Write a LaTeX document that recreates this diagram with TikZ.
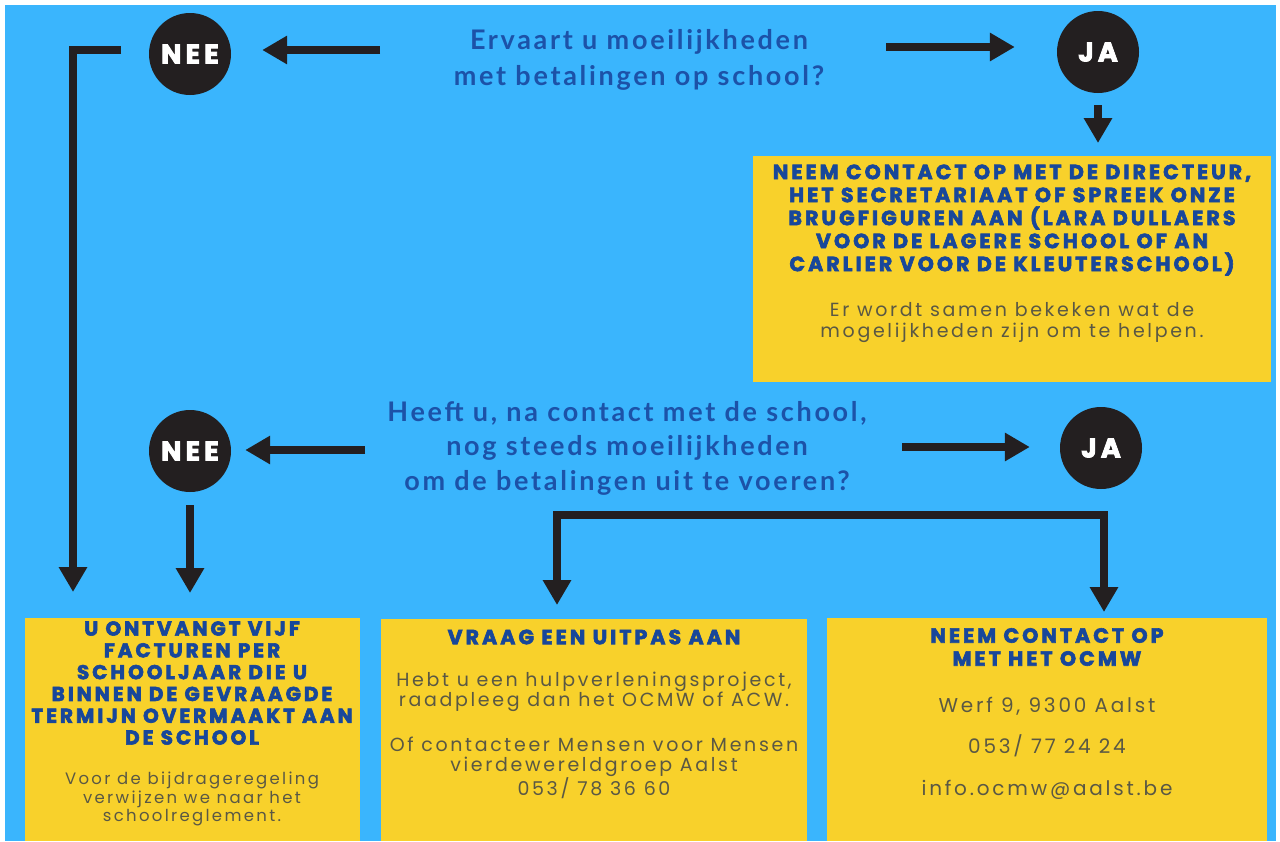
\documentclass[tikz,border=0pt]{standalone}
\usepackage{fontspec}
\usepackage{xcolor}
\usetikzlibrary{arrows.meta, positioning}

\newfontfamily\headfont{Poppins}[BoldFeatures={FakeBold=3,LetterSpace=15}]
\newfontfamily\askfont{Lato}[BoldFeatures={LetterSpace=10}]
\newfontfamily\plainfont{Poppins}[LetterSpace=14]

\definecolor{skyblue}{HTML}{3AB5FD}
\definecolor{boxyellow}{HTML}{F8D12B}
\definecolor{inkdark}{HTML}{231F20}
\definecolor{askblue}{HTML}{1C52A8}
\definecolor{titleblue}{HTML}{18479A}
\definecolor{bodygray}{HTML}{5A5844}

\begin{document}
\begin{tikzpicture}[
  x=1pt, y=-1pt,
  answer/.style={circle,fill=inkdark,text=white,minimum size=82pt,inner sep=0pt,
    font={\headfont\bfseries\fontsize{27}{27}\selectfont}},
  question/.style={align=center,text=askblue,font={\askfont\bfseries\fontsize{27}{36}\selectfont}},
  infobox/.style={fill=boxyellow,anchor=north west,inner sep=0pt},
  boxtitle/.style={align=center,text=titleblue,font={\headfont\bfseries\fontsize{20.5}{23}\selectfont}},
  boxtext/.style={align=center,text=bodygray,font={\plainfont\fontsize{19}{21}\selectfont}},
  flow/.style={line width=8pt,draw=inkdark,-{Triangle[width=27pt,length=25pt]}}
]

% background
\fill[white] (0,0) rectangle (1280,841);
\fill[skyblue] (5,5) rectangle (1276,841);

% first question
\node[question] (ask1) at (639,60) {Ervaart u moeilijkheden\\met betalingen op school?};
\node[answer] (nee1) at (190,54) {NEE};
\node[answer] (ja1) at (1098,52) {JA};

\node[infobox,minimum width=518pt,minimum height=226pt] (contact) at (753,156) {};
\node[boxtitle] (contacttitle) at (1012,220) {NEEM CONTACT OP MET DE DIRECTEUR,\\HET SECRETARIAAT OF SPREEK ONZE\\BRUGFIGUREN AAN (LARA DULLAERS\\VOOR DE LAGERE SCHOOL OF AN\\CARLIER VOOR DE KLEUTERSCHOOL)};
\node[boxtext] (contacttext) at (1012,323) {Er wordt samen bekeken wat de\\mogelijkheden zijn om te helpen.};

% second question
\node[question,font={\askfont\bfseries\fontsize{27}{34.5}\selectfont}] (ask2) at (627,448) {Heeft u, na contact met de school,\\nog steeds moeilijkheden\\om de betalingen uit te voeren?};
\node[answer] (nee2) at (190,451) {NEE};
\node[answer] (ja2) at (1101,448) {JA};

% bottom boxes
\node[infobox,minimum width=335pt,minimum height=223pt] (pay) at (25,618) {};
\node[boxtitle,font={\headfont\bfseries\fontsize{20}{21.8}\selectfont}] (paytitle) at (192,683) {U ONTVANGT VIJF\\FACTUREN PER\\SCHOOLJAAR DIE U\\BINNEN DE GEVRAAGDE\\TERMIJN OVERMAAKT AAN\\DE SCHOOL};
\node[boxtext,font={\plainfont\fontsize{16.5}{18.5}\selectfont}] (paytext) at (192,799) {Voor de bijdrageregeling\\verwijzen we naar het\\schoolreglement.};

\node[infobox,minimum width=426pt,minimum height=222pt] (uitpas) at (381,619) {};
\node[boxtitle] (uitpastitle) at (594,637) {VRAAG EEN UITPAS AAN};
\node[boxtext,font={\plainfont\fontsize{19}{20.5}\selectfont}] (uitpastext) at (594,692) {Hebt u een hulpverleningsproject,\\raadpleeg dan het OCMW of ACW.};
\node[boxtext,font={\plainfont\fontsize{19}{20.5}\selectfont}] (mensentext) at (594,768) {Of contacteer Mensen voor Mensen\\vierdewereldgroep Aalst\\053/ 78 36 60};

\node[infobox,minimum width=440pt,minimum height=223pt] (ocmw) at (827,618) {};
\node[boxtitle] (ocmwtitle) at (1047,647) {NEEM CONTACT OP\\MET HET OCMW};
\node[boxtext,font={\plainfont\fontsize{20}{41.5}\selectfont}] (ocmwtext) at (1047,748) {Werf 9, 9300 Aalst\\053/ 77 24 24\\info.ocmw@aalst.be};

% connectors
\coordinate (ask1w) at (380,50);
\coordinate (ask1e) at (886,47);
\coordinate (ask2w) at (365,450);
\coordinate (ask2e) at (902,447);
\coordinate (neestart) at (121,50);
\coordinate (neebend) at (73,50);
\coordinate (forkL) at (557,515);
\coordinate (forkR) at (1104,515);

\draw[flow,shorten >=31pt] (ask1w) -- (ask1w -| nee1.east);
\draw[flow,shorten >=42pt] (ask1e) -- (ask1e -| ja1.west);
\draw[flow,shorten <=12pt,shorten >=13pt] (ja1.south) -- (ja1.south |- contact.north);
\draw[flow,shorten >=26pt] (neestart) -- (neebend) -- (neebend |- pay.north);

\draw[flow,shorten >=14pt] (ask2w) -- (ask2w -| nee2.east);
\draw[flow,shorten >=30pt] (ask2e) -- (ask2e -| ja2.west);
\draw[flow,shorten <=13pt,shorten >=25pt] (nee2.south) -- (nee2.south |- pay.north);
\draw[flow,shorten >=14pt] (forkR) -- (forkL) -- (forkL |- uitpas.north);
\draw[flow,shorten >=6pt] (forkL) -- (forkR) -- (forkR |- ocmw.north);

\end{tikzpicture}
\end{document}
